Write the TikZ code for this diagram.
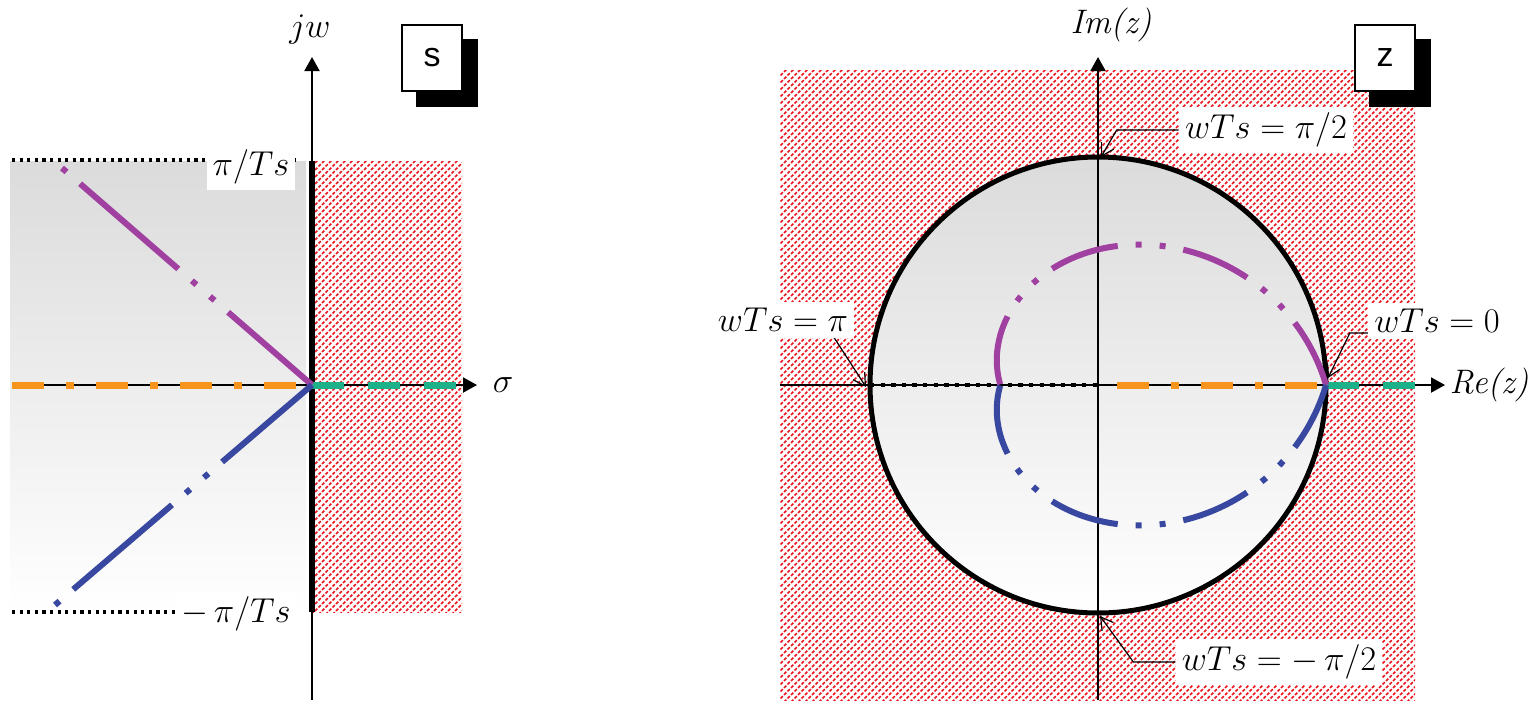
\documentclass[tikz,border=0pt]{standalone}
\usepackage{fontspec}
\newfontfamily\boxfont{Liberation Sans}
\usetikzlibrary{arrows.meta,patterns,shadows}
\definecolor{mapurple}{RGB}{160,64,160}
\definecolor{mablue}{RGB}{56,72,160}
\definecolor{maorange}{RGB}{247,148,29}
\definecolor{magreen}{RGB}{29,177,137}
\definecolor{hatchred}{RGB}{235,20,30}
% dotted diagonal hatch
\pgfdeclarepatternformonly{redhatch}{\pgfqpoint{-1pt}{-1pt}}{\pgfqpoint{4.5pt}{4.5pt}}{\pgfqpoint{3.5pt}{3.5pt}}{
  \pgfsetlinewidth{0.75pt}
  \pgfsetdash{{1.65pt}{0.825pt}}{0pt}
  \pgfpathmoveto{\pgfqpoint{0pt}{0pt}}
  \pgfpathlineto{\pgfqpoint{3.5pt}{3.5pt}}
  \pgfusepath{stroke}}
\tikzset{
  axisline/.style={line width=1pt, -{Triangle[length=7pt,width=7.5pt]}},
  hatched/.style={pattern=redhatch, pattern color=hatchred},
  fadefill/.style={top color=black!14, bottom color=white},
  ddot/.style={line width=3pt, dash pattern=on 35pt off 9pt on 3pt off 9pt on 3pt off 9pt},
  sdot/.style={line width=3pt, dash pattern=on 3pt off 9pt on 65pt off 9pt on 3pt off 9pt},
  orline/.style={line width=3.5pt, maorange, dash pattern=on 16pt off 11pt on 4pt off 11pt},
  grline/.style={line width=3.5pt, magreen, dash pattern=on 16pt off 12pt},
  dotline/.style={line width=1.6pt, dash pattern=on 1.6pt off 2.2pt},
  lbl/.style={fill=white, inner sep=3pt, font=\fontsize{17pt}{20pt}\selectfont},
  leader/.style={line width=0.6pt, -{Straight Barb[length=6pt,width=7pt]}},
  planebox/.style={draw, fill=white, line width=0.7pt, inner sep=0pt,
    minimum width=30pt, minimum height=33pt, font=\boxfont\fontsize{17pt}{20pt}\selectfont,
    copy shadow={shadow xshift=7.5pt, shadow yshift=-7.5pt, fill=black, draw=black}},
}
\begin{document}
\begin{tikzpicture}[x=0.5pt, y=-0.5pt]
  \useasboundingbox (0,0) rectangle (1534,702);
  % s-plane
  \fill[fadefill] (10,161) rectangle (306,612);
  \fill[hatched] (312,161) rectangle (462,612);
  \coordinate (so) at (312,385);
  \draw[dotline] (12,160) -- (300,160);
  \draw[dotline] (12,612) -- (300,612);
  \node[lbl] (pihi) at (251,167) {$\pi/Ts$};
  \node[lbl] (pilo) at (236,614) {$-\,\pi/Ts$};
  \node[lbl, fill=none] (jwlbl) at (310,30) {$jw$};
  \node[lbl, fill=none] (siglbl) at (503,385) {$\sigma$};
  \draw[axisline] (312,700) -- (312,57);
  \draw[axisline] (12,385) -- (477,385);
  \draw[line width=3pt] (312,161) -- (312,612);
  \draw[orline] (12,385) -- (so);
  \draw[grline] (so) -- (462,385);
  \draw[sdot, mapurple] (62,168) -- (so);
  \draw[sdot, mablue] (55,605) -- (so);
  \node[planebox] (sbox) at (432,58) {s};
  % z-plane
  \fill[hatched] (780,70) rectangle (1415,700);
  \coordinate (zo) at (1098,385);
  \draw[line width=2.5pt, fadefill] (zo) circle[radius=114pt];
  \draw[axisline] (1098,700) -- (1098,57);
  \draw[axisline] (780,385) -- (1445,385);
  \node[lbl, fill=none] (imlbl) at (1111,25) {\textit{Im(z)}};
  \node[lbl, fill=none] (relbl) at (1489,385) {\textit{Re(z)}};
  \draw[line width=2.2pt, dash pattern=on 2.2pt off 3.1pt] (870,385) -- (zo);
  \draw[orline, dash phase=32.5pt] (zo) -- (1326,385);
  \draw[grline] (1327,385) -- (1415,385);
  \draw[ddot, mapurple] plot[domain=0:180, samples=90, smooth]
    ({1098+228*exp(-0.27*rad(\x))*cos(\x)}, {385-207*exp(-0.27*rad(\x))*sin(\x)});
  \draw[ddot, mablue] plot[domain=0:180, samples=90, smooth]
    ({1098+228*exp(-0.27*rad(\x))*cos(\x)}, {385+207*exp(-0.27*rad(\x))*sin(\x)});
  \node[planebox] (zbox) at (1385,58) {z};
  % labels with leaders
  \node[lbl] (wpi2) at (1266,130) {$wTs=\pi/2$};
  \coordinate (tpi2) at (1101,157);
  \draw[leader] (wpi2.west) -- ++(-62,0) -- (tpi2);
  \node[lbl] (wpi) at (783,320) {$wTs=\pi$};
  \coordinate (tpi) at (866,387);
  \draw[leader] ([xshift=-10pt]wpi.south east) -- (tpi);
  \node[lbl] (w0) at (1437,321) {$wTs=0$};
  \coordinate (t0) at (1328,378);
  \draw[leader] ([yshift=-6pt]w0.west) -- ++(-18,0) -- (t0);
  \node[lbl] (wmpi2) at (1279,662) {$wTs=-\,\pi/2$};
  \coordinate (tmpi2) at (1100,616);
  \draw[leader] (wmpi2.west) -- ++(-42,0) -- (tmpi2);
\end{tikzpicture}
\end{document}
